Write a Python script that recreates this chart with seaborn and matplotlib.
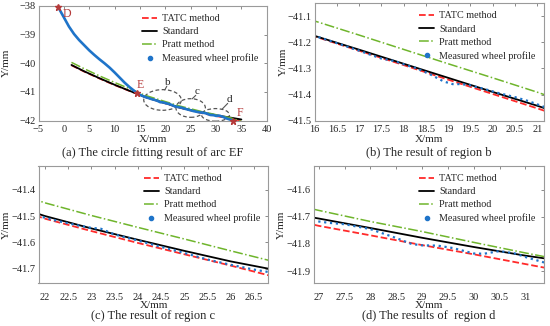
import numpy as np
import matplotlib
matplotlib.use("Agg")
import matplotlib.pyplot as plt
from matplotlib.patches import Ellipse
from matplotlib.lines import Line2D
from matplotlib.ticker import FuncFormatter
import seaborn as sns

# Measured wheel profile (x, y in mm)
meas_x = [-1.1, 0, 1, 2, 3, 4, 5, 6, 7, 8, 9, 10, 11, 12, 13, 14, 14.4, 15,
          16, 16.5, 17, 17.5, 17.8, 18, 18.3, 18.6, 18.9, 19.1, 19.3, 19.5, 19.8,
          20.1, 20.5, 20.8, 21.15, 21.5, 21.86, 22.3, 22.7, 23.0, 23.2, 23.5,
          24.0, 24.5, 25.0, 25.5, 26.0, 26.5, 26.8, 27.2, 27.5, 28.0, 28.5,
          28.8, 29.0, 29.3, 29.6, 30.0, 30.2, 30.5, 30.8, 31.0, 31.36, 32.0, 33.4]
meas_y = [-38.05, -38.4, -38.72, -38.98, -39.19, -39.37, -39.55, -39.71, -39.86,
          -40.0, -40.15, -40.32, -40.5, -40.68, -40.84, -40.98, -41.05, -41.1,
          -41.175, -41.203, -41.232, -41.262, -41.272, -41.284, -41.30, -41.323,
          -41.35, -41.36, -41.36, -41.365, -41.378, -41.393, -41.41, -41.425,
          -41.447, -41.475, -41.50, -41.52, -41.535, -41.545, -41.548, -41.57,
          -41.593, -41.617, -41.64, -41.665, -41.685, -41.703, -41.712, -41.722,
          -41.727, -41.745, -41.778, -41.80, -41.805, -41.806, -41.815, -41.835,
          -41.836, -41.826, -41.835, -41.848, -41.868, -41.92, -42.0]

# Fitted arcs
fit_x = [1.5, 4, 7, 10, 13, 16, 17, 18, 19, 20, 21, 22, 23, 24, 25, 26,
         27, 28, 29, 30, 31, 32, 33, 35]
tatc_y = [-40.07, -40.29, -40.53, -40.76, -40.97, -41.177, -41.232, -41.287,
          -41.343, -41.398, -41.453, -41.51, -41.557, -41.602, -41.645, -41.688,
          -41.733, -41.768, -41.804, -41.838, -41.874, -41.91, -41.94, -42.0]
standard_y = [-40.06, -40.28, -40.52, -40.75, -40.965, -41.175, -41.228, -41.282,
              -41.336, -41.39, -41.443, -41.50, -41.547, -41.59, -41.632, -41.672,
              -41.706, -41.741, -41.777, -41.811, -41.843, -41.87, -41.90, -41.96]
pratt_y = [-39.97, -40.19, -40.44, -40.67, -40.89, -41.118, -41.172, -41.227,
           -41.282, -41.336, -41.391, -41.45, -41.498, -41.543, -41.587, -41.632,
           -41.676, -41.717, -41.754, -41.794, -41.833, -41.87, -41.91, -42.03]

# Key points D, E, F
pt_names = ["D", "E", "F"]
pt_x = [-1.1, 14.4, 33.4]
pt_y = [-38.05, -41.05, -42.0]

# Panel settings
captions = ["(a) The circle fitting result of arc EF", "(b) The result of region b",
            "(c) The result of region c", "(d) The results of  region d"]
xlims = [(-5, 40), (16, 21.15), (21.86, 26.81), (26.9, 31.36)]
ylims = [(-42, -38), (-41.5, -41.05), (-41.755, -41.31), (-41.945, -41.512)]
xticks = [np.arange(-5, 41, 5), np.arange(16, 21.01, 0.5),
          np.arange(22, 26.51, 0.5), np.arange(27, 31.01, 0.5)]
yticks = [np.arange(-42, -37.9, 1), np.arange(-41.5, -41.05, 0.1),
          np.arange(-41.7, -41.35, 0.1), np.arange(-41.9, -41.55, 0.1)]

sns.set_theme(style="white")
plt.rcParams['font.family'] = ['Liberation Serif', 'DejaVu Serif']

c_tatc = "#ff2a2a"
c_std = "#000000"
c_pratt = "#6fb52c"
c_meas = "#1f74c9"
c_pt = "#b53a3a"


def fmt(v, pos):
    return ("%g" % round(v, 3)).replace("-", "\u2212")


fig = plt.figure(figsize=(5.5, 3.26), dpi=100)
positions = [[0.070, 0.630, 0.415, 0.352], [0.572, 0.630, 0.417, 0.360],
             [0.070, 0.131, 0.418, 0.360], [0.570, 0.131, 0.419, 0.360]]
caption_y = [0.532, 0.532, 0.031, 0.031]
xlabel_y = [-0.165, -0.165, -0.185, -0.185]
tick_pad = [3, 3, 7, 7]

for i in range(4):
    ax = fig.add_axes(positions[i])
    sns.lineplot(x=fit_x, y=tatc_y, ax=ax, color=c_tatc, linestyle="--",
                 linewidth=1.3, sort=False, legend=False)
    sns.lineplot(x=fit_x, y=standard_y, ax=ax, color=c_std, linestyle="-",
                 linewidth=1.3, sort=False, legend=False)
    sns.lineplot(x=fit_x, y=pratt_y, ax=ax, color=c_pratt, linestyle="-.",
                 linewidth=1.1, sort=False, legend=False)
    if i == 0:
        sns.lineplot(x=meas_x, y=meas_y, ax=ax, color=c_meas, linestyle="-",
                     linewidth=1.9, sort=False, legend=False)
        ax.plot(pt_x, pt_y, linestyle="none", marker="*", color=c_pt,
                markersize=5, clip_on=False, zorder=5)
        offsets = [(1.8, -0.25), (0.7, 0.3), (1.4, 0.27)]
        for name, px, py, off in zip(pt_names, pt_x, pt_y, offsets):
            ax.text(px + off[0], py + off[1], name, color=c_pt, fontsize=8.5,
                    ha="center", va="center")
        # region ellipses
        ell_c = [(19.45, -41.28), (25.0, -41.56), (29.9, -41.8)]
        ell_w = [7.4, 5.8, 5.5]
        ell_h = [0.72, 0.65, 0.44]
        lab_pos = [(20.4, -40.66), (26.3, -41.0), (32.7, -41.27)]
        leaders = [((19.9, -40.93), (20.3, -40.8)),
                   ((25.3, -41.24), (26.0, -41.12)),
                   ((31.2, -41.6), (32.3, -41.4))]
        for (cx, cy), w, h, name, (lx, ly), (p0, p1) in zip(
                ell_c, ell_w, ell_h, ["b", "c", "d"], lab_pos, leaders):
            ax.add_patch(Ellipse((cx, cy), w, h, fill=False, edgecolor="#555555",
                                 linestyle=(0, (3, 2)), linewidth=0.9))
            ax.plot([p0[0], p1[0]], [p0[1], p1[1]], color="#555555", linewidth=0.8)
            ax.text(lx, ly, name, fontsize=8, ha="center", va="center")
    else:
        sns.lineplot(x=meas_x, y=meas_y, ax=ax, color=c_meas, linestyle=":",
                     linewidth=1.6, sort=False, legend=False)

    ax.set_xlim(*xlims[i])
    ax.set_ylim(*ylims[i])
    ax.set_xticks(xticks[i])
    ax.set_yticks(yticks[i])
    ax.xaxis.set_major_formatter(FuncFormatter(fmt))
    ax.yaxis.set_major_formatter(FuncFormatter(fmt))
    ax.tick_params(direction="in", length=2.5, width=0.6, color="#777777",
                   labelsize=7.5, top=True, right=True)
    ax.tick_params(axis="x", pad=tick_pad[i])
    ax.tick_params(axis="y", pad=2)
    for sp in ax.spines.values():
        sp.set_color("#9a9a9a")
        sp.set_linewidth(0.8)
    ax.set_xlabel("X/mm", fontsize=8)
    ax.set_ylabel("Y/mm", fontsize=8)
    ax.xaxis.set_label_coords(0.5, xlabel_y[i])
    ax.yaxis.set_label_coords(-0.14 if i % 2 == 0 else -0.138, 0.5)
    ax.xaxis.label.set_va("center")
    ax.yaxis.label.set_va("center")

    handles = [Line2D([], [], color=c_tatc, linestyle="--", linewidth=1.3),
               Line2D([], [], color=c_std, linestyle="-", linewidth=1.3),
               Line2D([], [], color=c_pratt, linestyle="-.", linewidth=1.1),
               Line2D([], [], color=c_meas, linestyle="none", marker="o",
                      markersize=3)]
    ax.legend(handles, ["TATC method", "Standard", "Pratt method",
                        "Measured wheel profile"],
              loc="upper right", frameon=False, fontsize=7.3, handlelength=1.5,
              handletextpad=0.5, labelspacing=0.4, borderaxespad=0.4)

    pos = positions[i]
    fig.text(pos[0] + pos[2] / 2, caption_y[i], captions[i], fontsize=9,
             ha="center", va="center")

fig.savefig("out.png", dpi=100)
